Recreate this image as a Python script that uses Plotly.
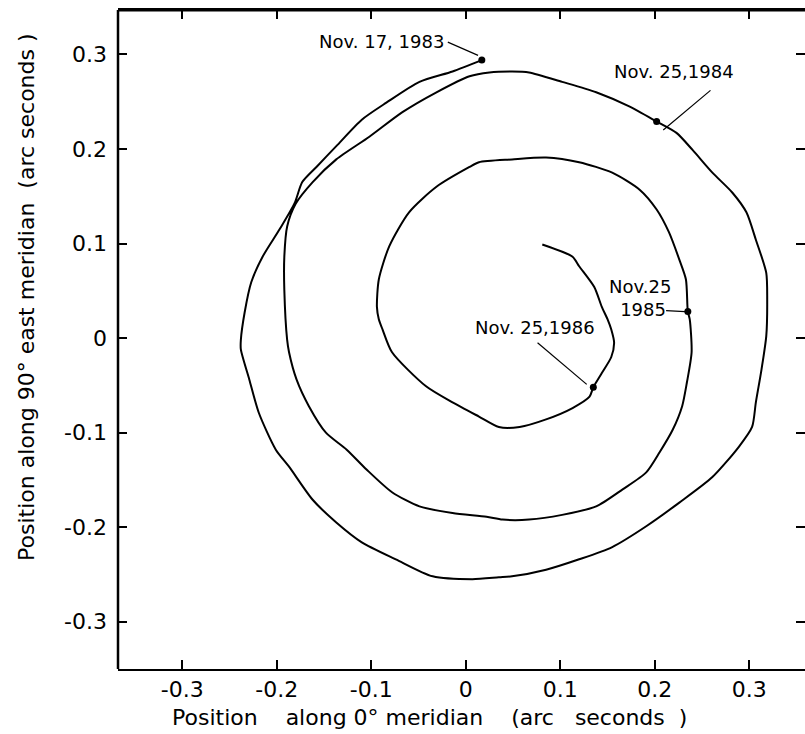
import plotly.graph_objects as go

# Polar motion path (arc seconds), Nov 1983 -> end of 1986
path_x = [0.017, -0.014, -0.049, -0.084, -0.110, -0.137, -0.158, -0.173, -0.181, -0.197, -0.215, -0.227,
          -0.234, -0.238, -0.238, -0.229, -0.219, -0.201, -0.187, -0.162, -0.137, -0.110, -0.074, -0.035,
          0.007, 0.035, 0.049, 0.085, 0.120, 0.155, 0.191, 0.226, 0.261, 0.289, 0.303, 0.307, 0.313, 0.318,
          0.319, 0.318, 0.307, 0.297, 0.282, 0.261, 0.240, 0.223, 0.202,
          0.173, 0.138, 0.102, 0.067, 0.049, 0.025, 0.004, -0.031, -0.067, -0.102, -0.137, -0.162, -0.180,
          -0.189, -0.192, -0.192, -0.189, -0.187, -0.179, -0.166, -0.148, -0.126, -0.105, -0.078, -0.049,
          -0.014, 0.022, 0.039, 0.067, 0.102, 0.138, 0.166, 0.191, 0.205, 0.219, 0.229, 0.234, 0.239, 0.237,
          0.235,
          0.233, 0.226, 0.215, 0.202, 0.184, 0.155, 0.120, 0.085, 0.049, 0.014, 0.004, -0.031, -0.060, -0.081,
          -0.092, -0.094, -0.092, -0.088, -0.078, -0.042, -0.014, 0.014, 0.035, 0.057, 0.085, 0.113, 0.131,
          0.135, 0.144, 0.154, 0.157, 0.154, 0.150, 0.144, 0.136, 0.120, 0.113, 0.081]
path_y = [0.294, 0.282, 0.271, 0.249, 0.231, 0.203, 0.181, 0.165, 0.143, 0.115, 0.086, 0.059,
          0.027, -0.002, -0.012, -0.044, -0.079, -0.118, -0.136, -0.171, -0.195, -0.216, -0.234, -0.252,
          -0.255, -0.253, -0.252, -0.245, -0.234, -0.221, -0.199, -0.174, -0.147, -0.115, -0.094, -0.068, -0.033, 0.002,
          0.041, 0.069, 0.104, 0.133, 0.154, 0.175, 0.199, 0.217, 0.229,
          0.245, 0.260, 0.271, 0.281, 0.282, 0.281, 0.277, 0.260, 0.239, 0.213, 0.189, 0.165, 0.142,
          0.118, 0.086, 0.051, -0.002, -0.015, -0.044, -0.072, -0.100, -0.118, -0.139, -0.163, -0.178,
          -0.185, -0.189, -0.192, -0.192, -0.187, -0.178, -0.160, -0.142, -0.121, -0.097, -0.072, -0.047, -0.015, 0.020,
          0.028,
          0.062, 0.083, 0.112, 0.136, 0.157, 0.175, 0.186, 0.191, 0.189, 0.186, 0.181, 0.160, 0.133, 0.097,
          0.062, 0.033, 0.020, 0.009, -0.015, -0.051, -0.068, -0.083, -0.094, -0.094, -0.086, -0.074, -0.062,
          -0.052, -0.037, -0.020, -0.005, 0.009, 0.020, 0.033, 0.054, 0.076, 0.086, 0.099]

# Dated points
date_labels = ["Nov. 17, 1983", "Nov. 25,1984", "Nov.25<br> 1985", "Nov. 25,1986"]
date_x = [0.017, 0.202, 0.235, 0.135]
date_y = [0.294, 0.229, 0.028, -0.052]

# Label positions and leader lines
label_x = [-0.021, 0.220, 0.184, 0.073]
label_y = [0.314, 0.282, 0.042, 0.011]
label_anchor = ["right", "center", "center", "center"]
leader_x0 = [-0.019, 0.259, 0.212, 0.076]
leader_y0 = [0.313, 0.262, 0.029, -0.005]
leader_x1 = [0.013, 0.209, 0.232, 0.128]
leader_y1 = [0.299, 0.220, 0.028, -0.049]

tick_vals = [-0.3, -0.2, -0.1, 0, 0.1, 0.2, 0.3]
tick_text = ["-0.3", "-0.2", "-0.1", "0", "0.1", "0.2", "0.3"]

FONT = "DejaVu Sans"
SP = "&nbsp;"

fig = go.Figure()
fig.add_trace(go.Scatter(x=path_x, y=path_y, mode="lines",
                         line=dict(color="black", width=2, shape="spline", smoothing=0.7),
                         hoverinfo="skip", showlegend=False))
for i in range(len(leader_x0)):
    fig.add_trace(go.Scatter(x=[leader_x0[i], leader_x1[i]], y=[leader_y0[i], leader_y1[i]], mode="lines",
                             line=dict(color="black", width=1.2), hoverinfo="skip", showlegend=False))
fig.add_trace(go.Scatter(x=date_x, y=date_y, mode="markers",
                         marker=dict(color="black", size=7), hoverinfo="skip", showlegend=False))

for i, t in enumerate(date_labels):
    fig.add_annotation(x=label_x[i], y=label_y[i], text=t, showarrow=False,
                       xanchor=label_anchor[i], yanchor="middle",
                       font=dict(family=FONT, size=18, color="black"))

# Axis titles
xtitle = ("Position" + SP * 4 + "along" + SP + "0°" + SP + "meridian" + SP * 4 +
          "(arc" + SP * 3 + "seconds" + SP * 2 + ")")
ytitle = "Position along 90° east meridian" + SP * 2 + "(arc seconds )"
fig.add_annotation(xref="paper", yref="paper", x=0.454, y=-0.073, xanchor="center", yanchor="middle",
                   text=xtitle, showarrow=False, font=dict(family=FONT, size=22, color="black"))
fig.add_annotation(xref="paper", yref="paper", x=-0.1325, y=0.5645, xanchor="center", yanchor="middle",
                   textangle=-90, text=ytitle,
                   showarrow=False, font=dict(family=FONT, size=22, color="black"))

# frame lines
fig.add_shape(type="line", xref="paper", yref="paper", x0=0, x1=0, y0=0, y1=1,
              line=dict(color="black", width=2.5))
fig.add_shape(type="line", xref="paper", yref="paper", x0=0, x1=1, y0=1, y1=1,
              line=dict(color="black", width=3))

fig.update_xaxes(range=[-0.368, 0.359], tickvals=tick_vals, ticktext=tick_text,
                 showline=True, linecolor="black", linewidth=2, mirror="ticks",
                 ticks="inside", ticklen=9, tickwidth=1.5, tickcolor="black",
                 showgrid=False, zeroline=False,
                 tickfont=dict(family=FONT, size=22, color="black"), ticklabelstandoff=0)
fig.update_yaxes(range=[-0.350, 0.347], tickvals=tick_vals, ticktext=tick_text,
                 showline=False, mirror="ticks",
                 ticks="inside", ticklen=9, tickwidth=1.5, tickcolor="black",
                 showgrid=False, zeroline=False,
                 tickfont=dict(family=FONT, size=22, color="black"), ticklabelstandoff=10)

fig.update_layout(width=805, height=734, margin=dict(l=118, r=0, t=10, b=65),
                  paper_bgcolor="white", plot_bgcolor="white")

fig.write_html("out.html")
